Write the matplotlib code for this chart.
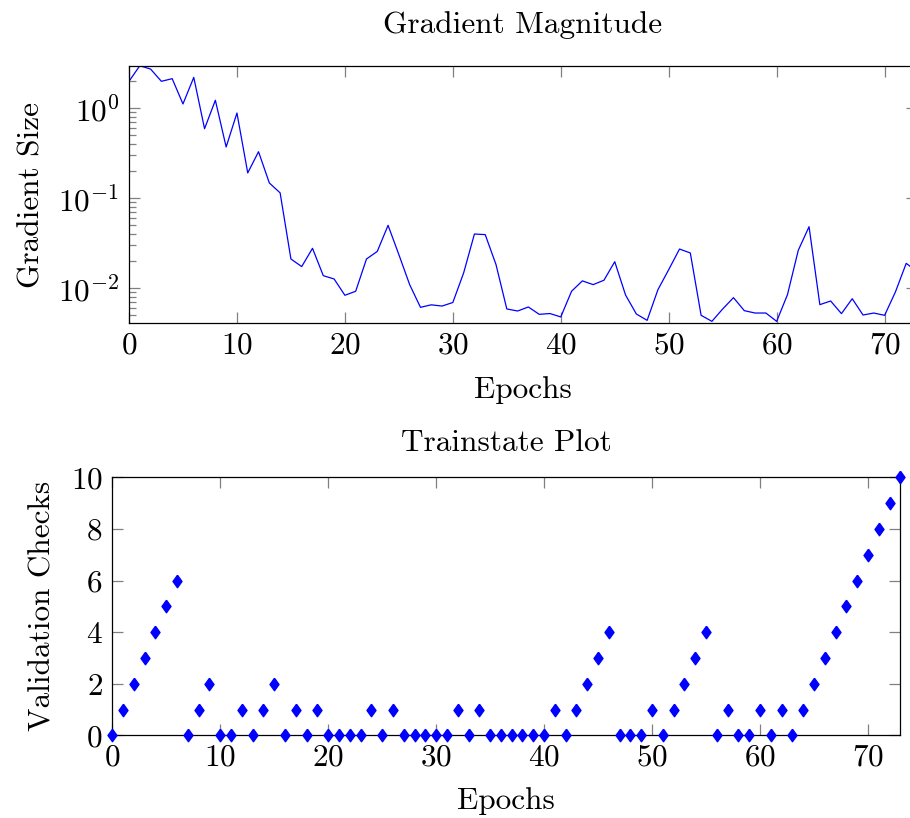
import numpy as np
import matplotlib
matplotlib.use("Agg")
import matplotlib.pyplot as plt
from matplotlib.ticker import LogLocator, NullFormatter, MultipleLocator

plt.rcParams['font.family'] = 'serif'
plt.rcParams['font.serif'] = ['cmr10']
plt.rcParams['mathtext.fontset'] = 'cm'
plt.rcParams['axes.formatter.use_mathtext'] = True
plt.rcParams['axes.unicode_minus'] = False

# ---- data ----
grad_epochs = list(range(74))
grad_size = [1.98, 2.95, 2.71, 1.98, 2.12, 1.11, 2.19, 0.589, 1.22, 0.369,
             0.880, 0.190, 0.327, 0.147, 0.114, 0.0210, 0.0173, 0.0276, 0.0137, 0.0126,
             0.0083, 0.0092, 0.0210, 0.0255, 0.0497, 0.0235, 0.0109, 0.0061, 0.0065, 0.0063,
             0.0069, 0.0147, 0.0398, 0.0392, 0.0182, 0.00585, 0.00555, 0.00615, 0.0051, 0.0052,
             0.00477, 0.0092, 0.0120, 0.0109, 0.0122, 0.0196, 0.00836, 0.00514, 0.00437, 0.00958,
             0.0160, 0.0271, 0.0245, 0.00497, 0.00426, 0.00585, 0.00781, 0.0056, 0.00527, 0.00527,
             0.00426, 0.00843, 0.0262, 0.048, 0.00653, 0.00717, 0.00519, 0.0076, 0.00501, 0.00527,
             0.00497, 0.00903, 0.0188, 0.0152]

val_epochs = list(range(74))
val_checks = [0, 1, 2, 3, 4, 5, 6, 0, 1, 2,
              0, 0, 1, 0, 1, 2, 0, 1, 0, 1,
              0, 0, 0, 0, 1, 0, 1, 0, 0, 0,
              0, 0, 1, 0, 1, 0, 0, 0, 0, 0,
              0, 1, 0, 1, 2, 3, 4, 0, 0, 0,
              1, 0, 1, 2, 3, 4, 0, 1, 0, 0,
              1, 0, 1, 0, 1, 2, 3, 4, 5, 6,
              7, 8, 9, 10]

W, H = 910, 818
fig = plt.figure(figsize=(W/100, H/100), dpi=100)

FS = 22.5
tick_col = '#808080'

def style(ax):
    for s in ax.spines.values():
        s.set_color('black')
        s.set_linewidth(0.9)
    ax.tick_params(which='both', direction='in', top=True, right=True,
                   color=tick_col, labelsize=FS, width=0.9)
    ax.tick_params(which='major', length=8)
    ax.tick_params(axis='x', which='major', pad=6)
    ax.tick_params(axis='y', which='major', pad=7)
    ax.tick_params(which='minor', length=5)

# ---- top axes ----
ax1 = fig.add_axes([129/W, 1-323/H, (917-129)/W, (323-66)/H])
ax1.plot(grad_epochs, grad_size, color='blue', lw=0.9)
ax1.set_yscale('log')
ax1.set_xlim(0, 73)
ax1.set_ylim(10**-2.389, 10**0.467)
ax1.xaxis.set_major_locator(MultipleLocator(10))
ax1.yaxis.set_major_locator(LogLocator(base=10, numticks=10))
ax1.yaxis.set_minor_locator(LogLocator(base=10, subs=np.arange(2, 10), numticks=10))
ax1.yaxis.set_minor_formatter(NullFormatter())
style(ax1)
ax1.set_title('Gradient Magnitude', fontsize=FS, pad=24)
ax1.set_xlabel('Epochs', fontsize=FS, labelpad=12)
ax1.set_ylabel('Gradient Size', fontsize=FS, labelpad=9)

# ---- bottom axes ----
ax2 = fig.add_axes([112.3/W, 1-735.3/H, (900.3-112.3)/W, (735.3-477.3)/H])
diamond = [(0, 1), (0.72, 0), (0, -1), (-0.72, 0), (0, 1)]
ax2.plot(val_epochs, val_checks, linestyle='none', marker=diamond, ms=9,
         color='blue', mec='blue', clip_on=False, zorder=5)
ax2.set_xlim(0, 73)
ax2.set_ylim(0, 10)
ax2.xaxis.set_major_locator(MultipleLocator(10))
ax2.yaxis.set_major_locator(MultipleLocator(2))
style(ax2)
ax2.set_title('Trainstate Plot', fontsize=FS, pad=19)
ax2.set_xlabel('Epochs', fontsize=FS, labelpad=11)
ax2.set_ylabel('Validation Checks', fontsize=FS, labelpad=10)

fig.savefig('out.png', dpi=100)
